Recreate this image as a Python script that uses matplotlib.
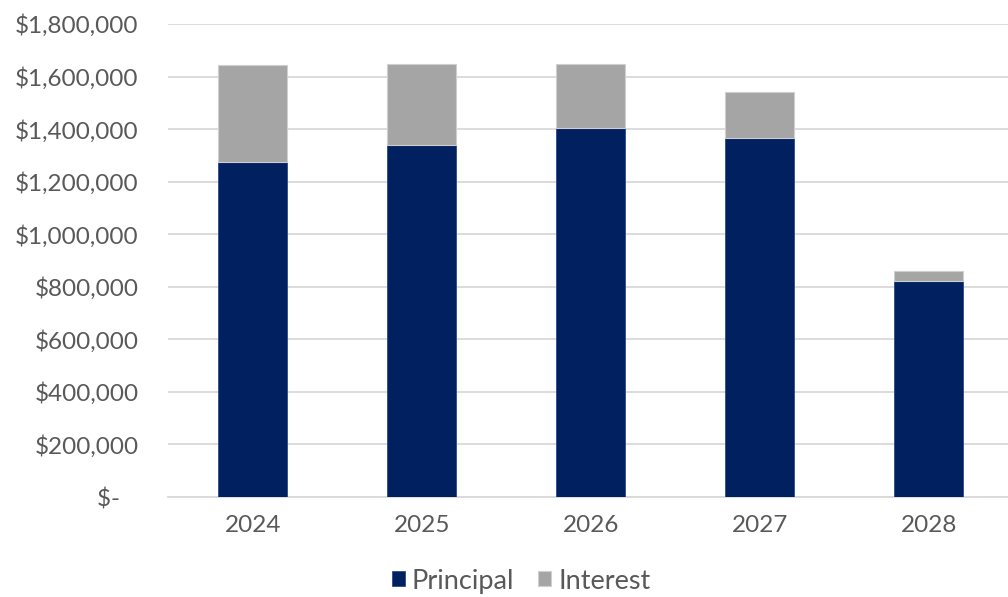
import matplotlib
matplotlib.use("Agg")
import matplotlib.pyplot as plt
from matplotlib.ticker import FuncFormatter

years = ["2024", "2025", "2026", "2027", "2028"]
principal = [1274500, 1340000, 1405000, 1366000, 821000]
interest = [368500, 307000, 242000, 177000, 40000]

NAVY = "#002060"
GRAY = "#A5A5A5"
TXT = "#595959"

plt.rcParams['font.family'] = ['Lato', 'DejaVu Sans']

fig = plt.figure(figsize=(10.08, 5.97), dpi=100)
ax = fig.add_axes([0.167, 0.1675, 0.838, 0.7923])

x = list(range(len(years)))
ax.bar(x, principal, width=0.41, color=NAVY, edgecolor="#2a4a8a", linewidth=0.6, label="Principal", zorder=3)
ax.bar(x, interest, width=0.41, bottom=principal, color=GRAY, edgecolor="#cfcfcf", linewidth=0.8, label="Interest", zorder=3)

ax.set_xlim(-0.5, 4.5)
ax.set_ylim(0, 1800000)
ax.set_yticks(range(0, 1800001, 200000))

def fmt(v, pos):
    if v == 0:
        return "$-   "
    return "${:,.0f}".format(v)
ax.yaxis.set_major_formatter(FuncFormatter(fmt))
ax.set_xticks(x)
ax.set_xticklabels(years)

ax.grid(axis='y', color="#D9D9D9", linewidth=1.3, zorder=0)
for s in ["top", "right", "left"]:
    ax.spines[s].set_visible(False)
ax.spines["bottom"].set_color("#D9D9D9")
ax.spines["bottom"].set_linewidth(1.3)
ax.tick_params(axis='both', length=0, labelsize=17.5, labelcolor=TXT)
ax.tick_params(axis='y', pad=21.5)
ax.tick_params(axis='x', pad=13)

leg = fig.legend(loc="lower center", bbox_to_anchor=(0.517, -0.035), ncol=2, frameon=False,
                 fontsize=19.5, handlelength=0.48, handleheight=0.48, handletextpad=0.26,
                 columnspacing=0.87, labelcolor=TXT)

fig.savefig("out.png", dpi=100)
